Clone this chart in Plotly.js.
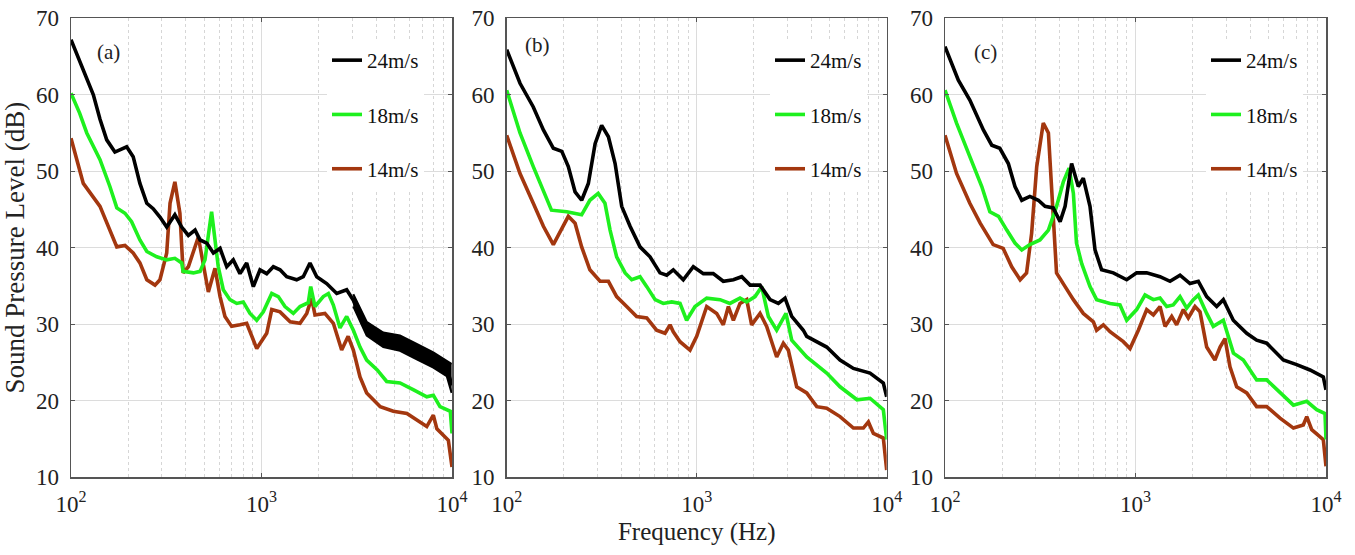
<!DOCTYPE html>
<html>
<head>
<meta charset="utf-8">
<script src="https://cdn.plot.ly/plotly-3.0.1.min.js"></script>
<style>html,body{margin:0;padding:0;background:#fff;}#chart{width:1355px;height:555px;}</style>
</head>
<body>
<div id="chart"></div>
<script>
// ---------- DATA ----------
const seriesNames = ['24m/s', '18m/s', '14m/s'];
const panelLabels = ['(a)', '(b)', '(c)'];
const xTickVals = [100, 1000, 10000];
const xTickText = ['10<sup>2</sup>', '10<sup>3</sup>', '10<sup>4</sup>'];
const yTickVals = [10, 20, 30, 40, 50, 60, 70];
const minorVals = [200, 300, 400, 500, 600, 700, 800, 900, 2000, 3000, 4000, 5000, 6000, 7000, 8000, 9000];

// Panel (a)
const aF24 = [100,121,131,142,154,170,181,196,212,230,250,270,293,318,351,381,413,448,476,516,559,606,657,711,771,836,906,982,1065,1154,1251,1356,1530,1657,1797,1950,2198,2483,2800,3035,3289,3565,4357,5333,6530,7980,9380,9840,10000];
const aV24 = [67.2,62.3,60.0,56.8,54.1,52.5,52.8,53.2,51.9,48.4,45.8,45.1,44.0,42.7,44.3,42.7,41.6,42.3,41.0,40.6,39.3,39.9,37.5,38.4,36.6,38.0,34.9,37.1,36.6,37.5,37.1,36.2,35.8,36.2,38.0,36.2,35.3,34.0,34.5,33.1,31.0,29.4,27.9,27.5,26.4,25.3,24.2,22.7,22.0];
const aBandF = [3035,3565,4357,5333,6530,7980,9380,9950];
const aBandHi = [33.9,30.3,28.9,28.5,27.4,26.3,25.2,24.8];
const aBandLo = [32.3,28.5,27.0,26.5,25.4,24.3,23.2,21.0];

const aF18 = [100,111,121,142,160,174,192,208,230,250,282,318,351,381,388,439,476,505,547,570,593,630,683,741,802,870,944,1022,1132,1225,1328,1469,1593,1760,1813,1909,2110,2244,2383,2583,2800,3035,3289,3565,4050,4540,5333,6290,7370,7980,8650,9800,10000];
const aV18 = [60.2,57.6,55.0,51.5,48.0,45.2,44.5,43.4,41.0,39.5,38.8,38.4,38.6,38.0,36.9,36.7,36.9,38.4,44.7,41.0,37.5,34.5,33.2,32.7,32.9,31.4,30.5,31.6,34.0,33.6,32.3,31.4,32.3,32.8,34.9,32.3,33.6,34.0,32.5,29.5,31.0,29.2,27.0,25.3,24.0,22.5,22.3,21.4,20.5,20.7,19.2,18.6,15.7];

const aF14 = [100,116,142,160,174,192,212,230,250,276,293,318,331,351,373,388,413,466,495,526,570,606,643,697,771,836,944,1065,1132,1251,1414,1593,1728,1832,1909,2152,2383,2635,2850,3035,3289,3565,4200,4920,5800,6800,7370,7980,8330,9570,10000];
const aV14 = [54.3,48.4,45.4,42.3,40.1,40.3,39.3,38.0,35.8,35.1,35.8,39.3,45.8,48.6,44.5,36.7,37.5,41.4,38.0,34.2,37.3,33.6,31.0,29.7,29.9,30.1,26.8,28.8,31.9,31.6,30.3,30.1,31.4,33.4,31.2,31.4,30.1,26.6,28.4,26.6,23.1,21.0,19.2,18.6,18.3,17.2,16.6,18.1,16.3,14.8,11.3];

// Panel (b)
const bF24 = [100,117.5,138,156,176,195,211,229,248,269,292,316,343,372,403,446,503,568,641,695,753,850,960,1084,1222,1380,1560,1726,1910,2155,2432,2690,2917,3163,3640,3793,4833,5680,6680,8170,9600,10000];
const bV24 = [65.9,61.5,58.4,55.4,53.0,52.6,50.6,47.3,46.2,48.4,53.6,56.0,54.5,51.0,45.4,42.8,40.1,38.8,36.7,36.4,37.1,35.8,37.5,36.6,36.6,35.6,35.8,36.2,35.1,35.1,33.2,32.7,33.4,31.0,29.2,28.4,27.0,25.3,24.2,23.6,22.3,20.5];

const bF18 = [100,117.5,138,150,172,207,248,274,303,329,350,379,420,455,503,546,604,667,738,817,885,980,1129,1327,1496,1690,1833,2028,2198,2383,2636,2951,3163,3793,4833,5680,6980,8170,9600,10000];
const bV18 = [60.6,55.0,50.6,48.5,44.9,44.7,44.3,46.2,47.1,45.8,42.3,38.8,36.7,35.8,36.2,34.9,33.2,32.7,32.9,32.7,30.5,32.3,33.4,33.2,32.7,33.4,32.9,33.6,34.9,31.0,29.2,31.4,27.9,25.7,23.6,21.8,20.1,20.3,18.8,14.9];

const bF14 = [100,117.5,138,156,176,211,229,248,274,310,343,379,428,483,546,615,681,724,753,817,922,1000,1129,1274,1380,1468,1560,1690,1833,1946,2155,2335,2636,2858,3035,3360,3793,4285,4833,5680,6680,7535,8010,8510,9600,10000];
const bV14 = [54.7,49.7,45.8,42.8,40.4,44.1,43.2,40.1,37.1,35.6,35.6,33.6,32.3,31.0,30.8,29.2,28.8,29.9,29.0,27.7,26.6,28.4,32.3,31.4,29.9,32.3,30.5,32.7,33.2,29.9,31.4,29.7,25.7,27.5,26.6,21.8,21.0,19.2,19.0,17.9,16.4,16.4,17.2,15.7,15.1,10.9];

// Panel (c)
const cF24 = [100,117.5,135,159,176,194,215,233,253,279,309,335,370,402,427,462,501,532,577,613,664,765,899,1014,1145,1345,1518,1713,1932,2137,2364,2668,2891,3260,3835,4325,4885,5970,7015,8240,9680,10000];
const cV24 = [66.3,61.9,59.3,55.4,53.4,53.0,51.0,48.0,46.2,46.7,46.2,45.4,45.2,43.4,45.4,51.0,48.0,49.1,45.4,39.7,37.1,36.7,35.8,36.7,36.7,36.2,35.6,36.4,35.3,35.6,33.6,32.3,33.2,30.5,28.8,27.9,27.5,25.3,24.7,24.0,23.1,21.4];

const cF18 = [100,115,135,156,172,191,211,233,253,279,315,349,385,418,448,472,490,522,556,577,625,735,829,899,1014,1122,1241,1345,1458,1578,1713,1857,2011,2137,2364,2561,2891,3133,3266,3681,4325,4885,5738,6745,7925,8935,9880,10000];
const cV18 = [60.6,56.3,51.9,48.0,44.7,44.1,42.3,40.6,39.7,40.4,41.0,42.3,45.4,48.6,50.4,47.1,40.6,37.9,36.0,34.9,33.2,32.7,32.5,30.5,31.9,33.8,33.2,33.4,32.3,32.5,33.6,32.1,33.2,33.8,31.4,29.7,30.5,27.9,26.2,25.3,22.7,22.7,21.0,19.4,19.9,18.8,18.3,14.9];

const cF14 = [100,115,135,153,179,202,224,248,268,285,303,328,349,363,385,427,472,532,601,625,678,735,863,936,1035,1145,1241,1345,1429,1549,1644,1783,1893,2052,2181,2364,2612,2780,2951,3133,3397,3835,4325,4885,5738,6745,7600,7925,8415,9680,10000];
const cV14 = [54.7,49.7,45.8,43.2,40.4,39.9,37.5,35.8,36.7,41.9,50.6,56.3,55.0,48.0,36.7,34.9,33.2,31.4,30.3,29.2,29.9,29.0,27.7,26.8,29.2,31.9,31.2,32.3,29.7,31.0,29.9,31.9,30.8,32.3,31.6,27.0,25.3,27.0,28.1,24.4,21.8,21.0,19.2,19.2,17.7,16.4,16.8,17.9,16.2,14.9,11.4];

// ---------- STYLE ----------
const colors = ['#000000', '#1ef01e', '#a3370f'];
const FONT = "'Liberation Serif', 'Times New Roman', serif";
const W = 1355, H = 555;
const xDomains = [[71/W, 452/W], [506.7/W, 886.7/W], [945/W, 1326/W]];
const yDomain = [1 - 477/H, 1 - 18.3/H];
const legendLeft = [327, 770, 1206];

const panels = [
  {F: [aF24, aF18, aF14], V: [aV24, aV18, aV14]},
  {F: [bF24, bF18, bF14], V: [bV24, bV18, bV14]},
  {F: [cF24, cF18, cF14], V: [cV24, cV18, cV14]}
];

const traces = [];
panels.forEach((p, i) => {
  const xa = i === 0 ? 'x' : 'x' + (i + 1);
  const ya = i === 0 ? 'y' : 'y' + (i + 1);
  const lg = i === 0 ? 'legend' : 'legend' + (i + 1);
  if (i === 0) {
    traces.push({x: aBandF, y: aBandLo, xaxis: xa, yaxis: ya, mode: 'lines', line: {color: '#000', width: 2}, showlegend: false, hoverinfo: 'skip'});
    traces.push({x: aBandF, y: aBandHi, xaxis: xa, yaxis: ya, mode: 'lines', line: {color: '#000', width: 2}, fill: 'tonexty', fillcolor: '#000', showlegend: false, hoverinfo: 'skip'});
  }
  for (let k = 2; k >= 0; k--) {
    traces.push({
      x: p.F[k], y: p.V[k], xaxis: xa, yaxis: ya, mode: 'lines', name: seriesNames[k],
      line: {color: colors[k], width: 3.6}, legend: lg, legendgroup: 'g' + i + k, legendrank: k + 1
    });
  }
});

function xAxis(i) {
  const ax = {
    type: 'log', range: [2, 4], domain: xDomains[i], anchor: i === 0 ? 'y' : 'y' + (i + 1),
    tickmode: 'array', tickvals: xTickVals, ticktext: xTickText,
    showgrid: true, gridcolor: '#dcdcdc', gridwidth: 1,
    minor: {tickmode: 'array', tickvals: minorVals, showgrid: true, gridcolor: '#d6d6d6', griddash: 'dot', gridwidth: 1, ticks: ''},
    showline: true, linecolor: '#555', linewidth: 1.5, mirror: 'ticks',
    ticks: 'inside', ticklen: 4, tickcolor: '#555', ticklabelstandoff: 6,
    zeroline: false, automargin: false,
    tickfont: {family: FONT, size: 23, color: '#222'}
  };
  if (i === 1) ax.title = {text: 'Frequency (Hz)', font: {family: FONT, size: 25, color: '#222'}, standoff: 6};
  return ax;
}
function yAxis(i) {
  const ax = {
    range: [10, 70], domain: yDomain, anchor: i === 0 ? 'x' : 'x' + (i + 1),
    tickmode: 'array', tickvals: yTickVals,
    showgrid: true, gridcolor: '#dcdcdc', gridwidth: 1,
    showline: true, linecolor: '#555', linewidth: 1.5, mirror: 'ticks',
    ticks: 'inside', ticklen: 4, tickcolor: '#555', ticklabelstandoff: 6,
    zeroline: false, automargin: false,
    tickfont: {family: FONT, size: 23, color: '#222'}
  };
  if (i === 0) ax.title = {text: 'Sound Pressure Level (dB)', font: {family: FONT, size: 27, color: '#222'}, standoff: 6};
  return ax;
}
function legendCfg(i) {
  return {
    x: legendLeft[i] / W, xanchor: 'left', y: 1 - 40 / H, yanchor: 'top',
    bgcolor: '#ffffff', borderwidth: 0, traceorder: 'grouped', tracegroupgap: 24,
    itemwidth: 30, font: {family: FONT, size: 21, color: '#111'}
  };
}

const layout = {
  width: W, height: H, margin: {l: 0, r: 0, t: 0, b: 0},
  paper_bgcolor: '#fff', plot_bgcolor: '#fff',
  font: {family: FONT, color: '#222'},
  showlegend: true,
  xaxis: xAxis(0), xaxis2: xAxis(1), xaxis3: xAxis(2),
  yaxis: yAxis(0), yaxis2: yAxis(1), yaxis3: yAxis(2),
  legend: legendCfg(0), legend2: legendCfg(1), legend3: legendCfg(2),
  annotations: panelLabels.map((t, i) => ({
    text: t, xref: 'x' + (i === 0 ? '' : i + 1) + ' domain', yref: 'paper',
    x: [0.098, 0.081, 0.106][i], y: 1 - [52, 45, 52][i] / H, xanchor: 'center', yanchor: 'middle',
    showarrow: false, font: {family: FONT, size: 21, color: '#222'}
  }))
};

Plotly.newPlot('chart', traces, layout, {displayModeBar: false, staticPlot: true});
</script>
</body>
</html>
